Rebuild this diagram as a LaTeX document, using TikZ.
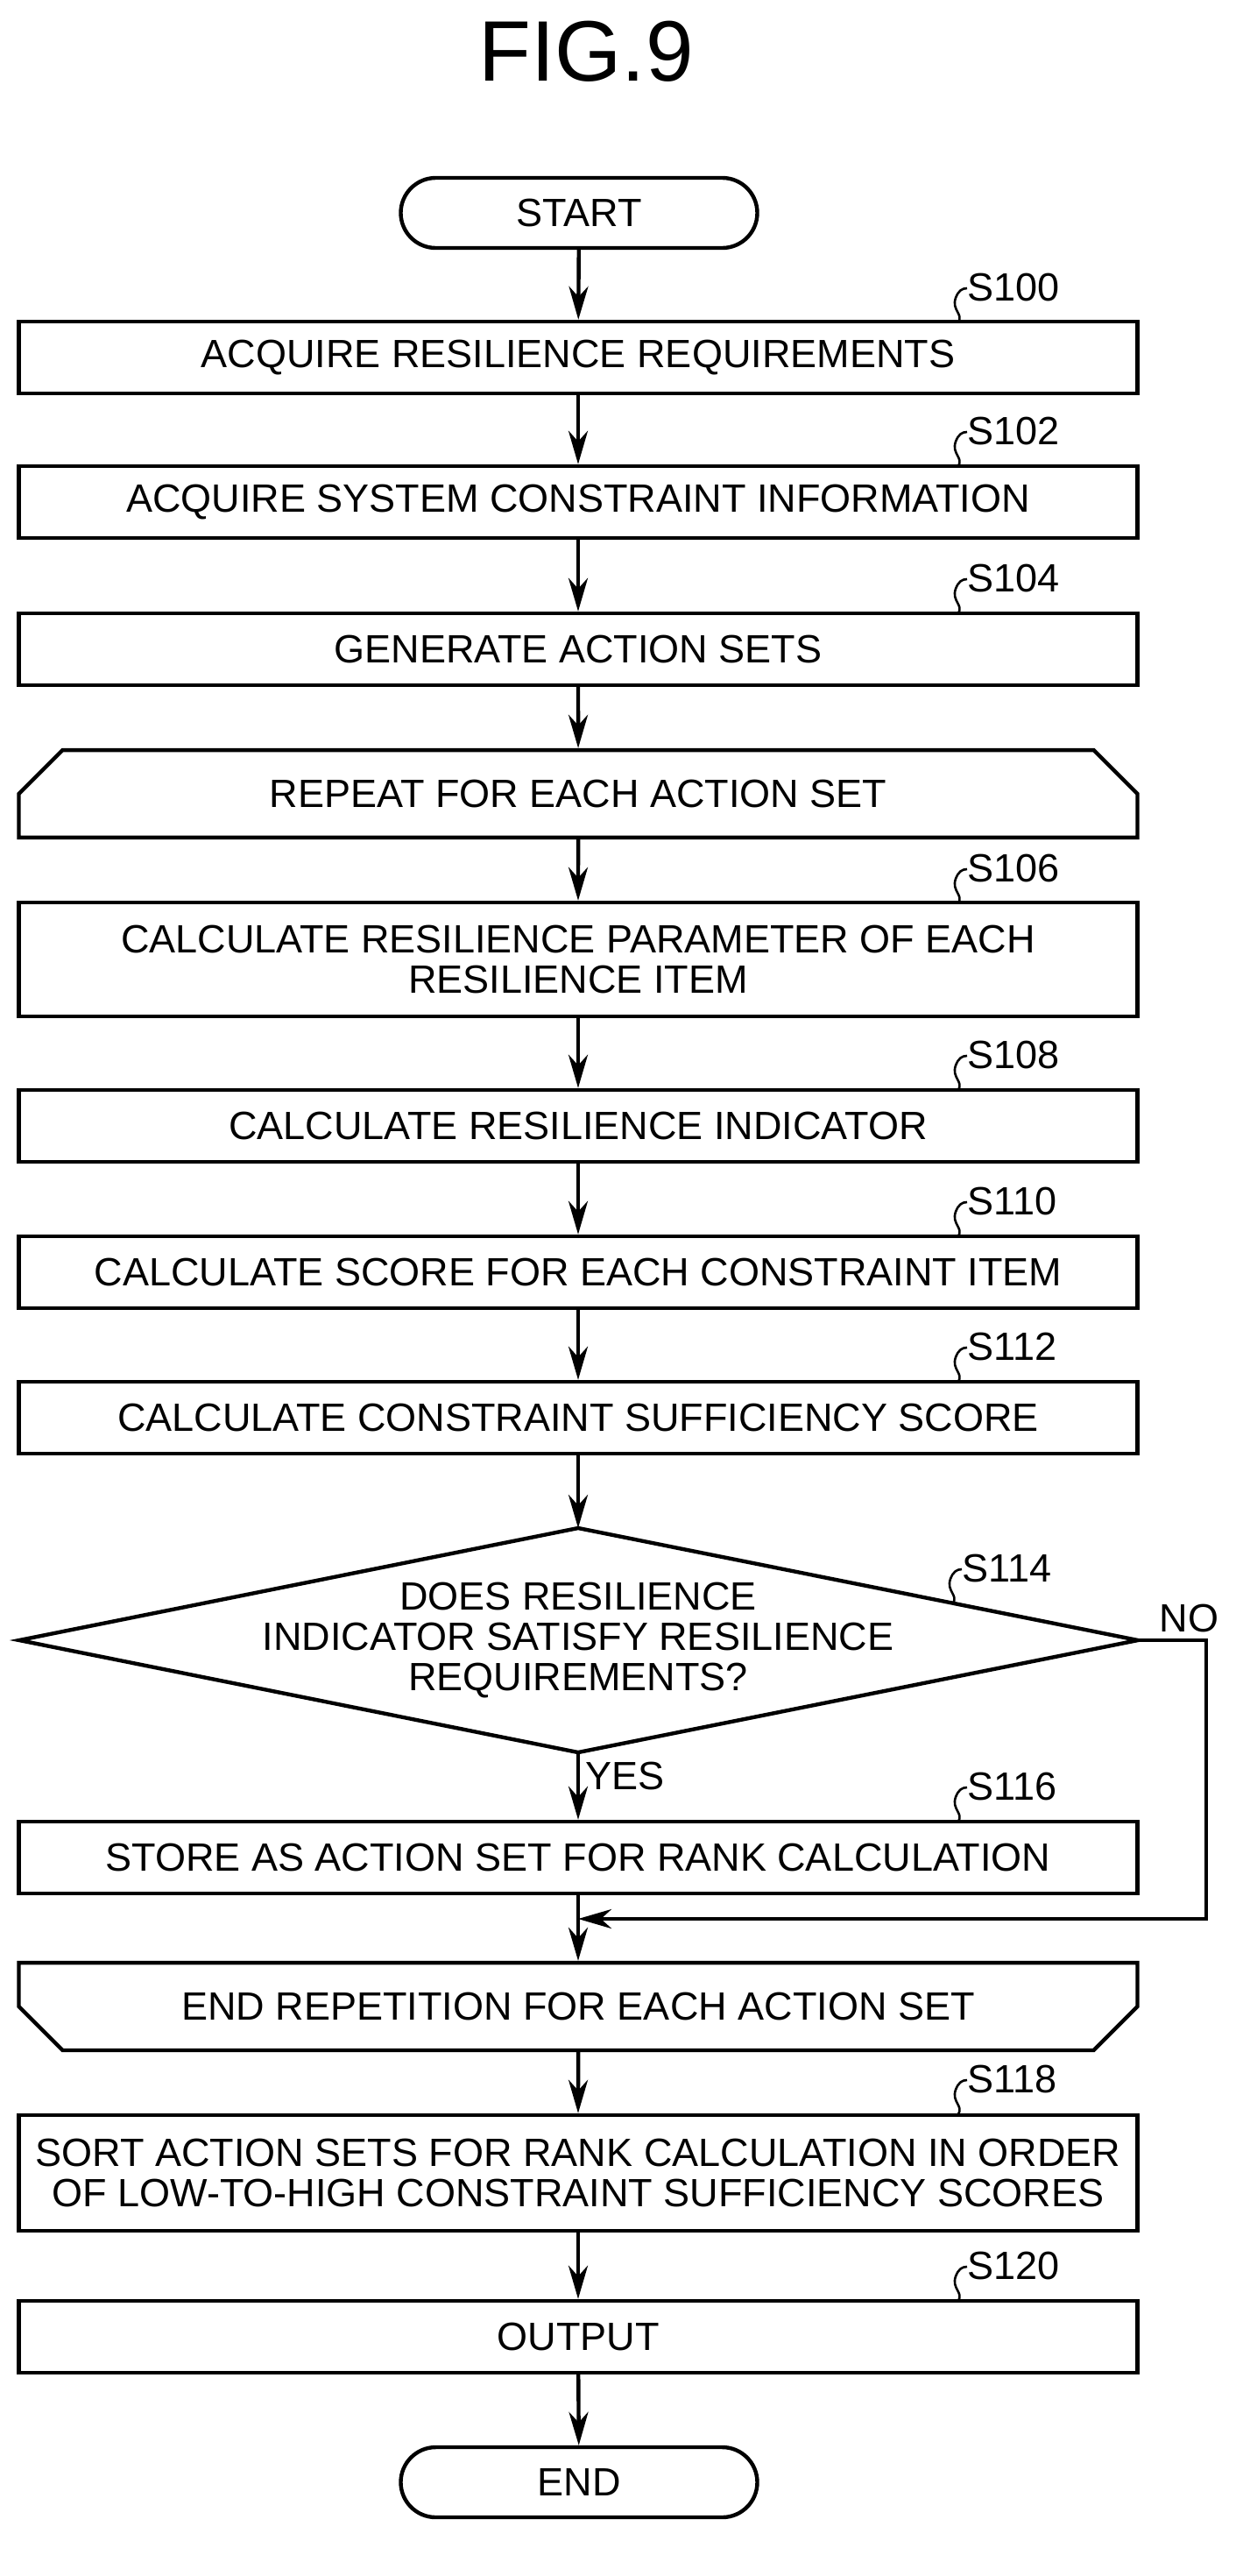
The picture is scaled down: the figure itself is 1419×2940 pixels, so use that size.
\documentclass[tikz,border=0pt]{standalone}
\usepackage{fontspec}
\setmainfont{Liberation Sans}
\usetikzlibrary{arrows.meta,shapes.misc}
\newcommand\fs{\fontsize{22.5}{23}\selectfont}
\newcommand\steplabel[2]{%
  \begin{scope}[shift={(#1)}]
    \draw[line width=1.3pt] (0,0) .. controls (6,-10) and (-8,-14) .. (-3,-28)
      .. controls (0,-36) and (4,-39) .. (10,-39);
    \node[anchor=west,inner sep=0,font=\fs] at (10,-40) {#2};
  \end{scope}}
\tikzset{
  box/.style={draw,line width=2.2pt,minimum width=638.5pt,minimum height=41pt,
    inner sep=0,align=center,font=\fs},
  term/.style={box,minimum width=203.5pt,minimum height=40pt,rounded corners=20pt},
  loopA/.style={box,chamfered rectangle,chamfered rectangle corners={north west,north east},
    chamfered rectangle xsep=18pt,chamfered rectangle ysep=17pt,minimum width=638.5pt},
  loopB/.style={loopA,chamfered rectangle corners={south west,south east}},
  flow/.style={line width=2.2pt,-{Stealth[length=19pt,width=11pt,inset=6pt]}}
}
\begin{document}
\begin{tikzpicture}[x=0.5pt,y=-0.5pt]
\useasboundingbox (0,0) rectangle (1419,2940);
\node[font=\fontsize{49}{56}\selectfont] (title) at (669,59) {FIG.9};
\node[term] (start) at (661,243) {START};
\node[box] (s100) at (660,408) {ACQUIRE RESILIENCE REQUIREMENTS};
\node[box] (s102) at (660,573) {ACQUIRE SYSTEM CONSTRAINT INFORMATION};
\node[box] (s104) at (660,741) {GENERATE ACTION SETS};
\node[loopA] (rep) at (660,906) {REPEAT FOR EACH ACTION SET};
\node[box,minimum height=65pt] (s106) at (660,1095) {CALCULATE RESILIENCE PARAMETER OF EACH\\RESILIENCE ITEM};
\node[box] (s108) at (660,1285) {CALCULATE RESILIENCE INDICATOR};
\node[box] (s110) at (660,1452) {CALCULATE SCORE FOR EACH CONSTRAINT ITEM};
\node[box] (s112) at (660,1618) {CALCULATE CONSTRAINT SUFFICIENCY SCORE};
% decision
\node[font=\fs,align=center] (s114) at (660,1872) {DOES RESILIENCE\\INDICATOR SATISFY RESILIENCE\\REQUIREMENTS?};
\coordinate (dT) at (660,1744);
\coordinate (dB) at (660,2000);
\coordinate (dL) at (22,1872);
\coordinate (dR) at (1299,1872);
\draw[line width=2.2pt] (dT) -- (dR) -- (dB) -- (dL) -- cycle;
\node[box] (s116) at (660,2120) {STORE AS ACTION SET FOR RANK CALCULATION};
\coordinate (merge) at (660,2190);
\coordinate (noC) at (1377,1872);
\node[loopB] (endrep) at (660,2290) {END REPETITION FOR EACH ACTION SET};
\node[box,minimum height=66pt] (s118) at (660,2480) {SORT ACTION SETS FOR RANK CALCULATION IN ORDER\\OF LOW-TO-HIGH CONSTRAINT SUFFICIENCY SCORES};
\node[box] (s120) at (660,2667) {OUTPUT};
\node[term] (end) at (661,2833) {END};
% connectors
\draw[flow] (start) -- (s100);
\draw[flow] (s100) -- (s102);
\draw[flow] (s102) -- (s104);
\draw[flow] (s104) -- (rep);
\draw[flow] (rep) -- (s106);
\draw[flow] (s106) -- (s108);
\draw[flow] (s108) -- (s110);
\draw[flow] (s110) -- (s112);
\draw[flow] (s112) -- (dT);
\draw[flow] (dB) -- node[pos=0.35,right,font=\fs] {YES} (s116);
\draw[flow] (dR) -- node[above,pos=0.75,font=\fs] {NO} (noC) |- (merge);
\draw[flow] (s116) -- (endrep);
\draw[flow] (endrep) -- (s118);
\draw[flow] (s118) -- (s120);
\draw[flow] (s120) -- (end);
% step labels
\steplabel{1094,368}{S100}
\steplabel{1094,532}{S102}
\steplabel{1094,700}{S104}
\steplabel{1094,1031}{S106}
\steplabel{1094,1244}{S108}
\steplabel{1094,1411}{S110}
\steplabel{1094,1577}{S112}
\steplabel{1088,1830}{S114}
\steplabel{1094,2079}{S116}
\steplabel{1094,2413}{S118}
\steplabel{1094,2626}{S120}
\end{tikzpicture}
\end{document}
